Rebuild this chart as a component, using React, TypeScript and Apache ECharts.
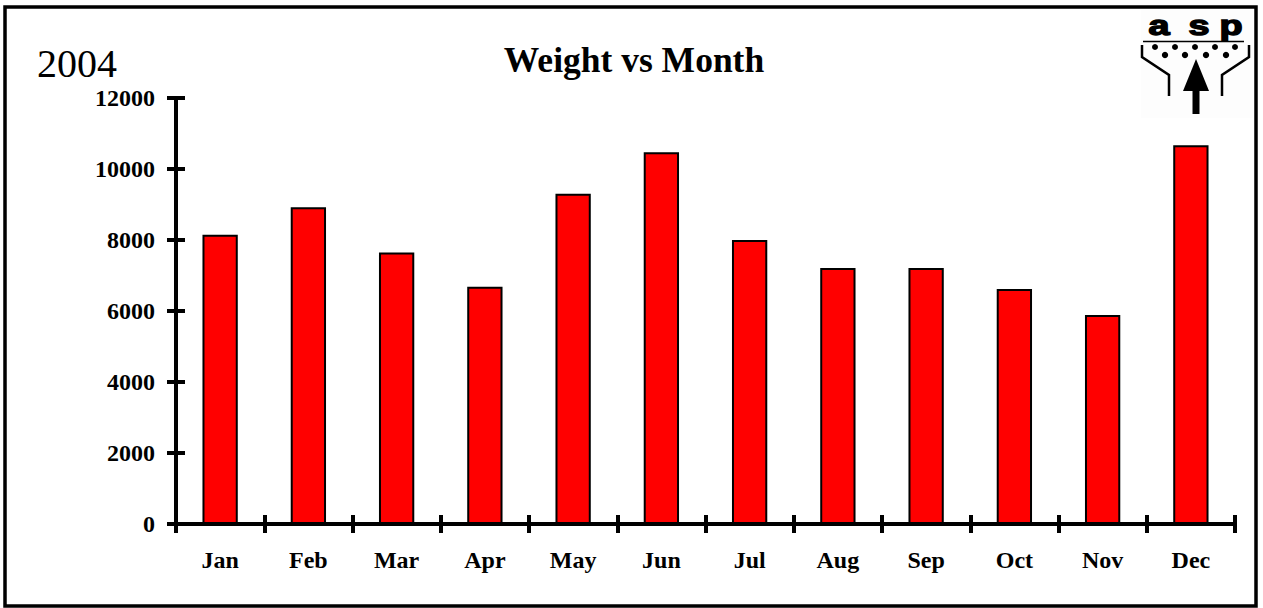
import React, { useEffect, useRef } from "react";
import * as echarts from "echarts";

const months = ["Jan", "Feb", "Mar", "Apr", "May", "Jun", "Jul", "Aug", "Sep", "Oct", "Nov", "Dec"];
const weights = [8150, 8920, 7650, 6680, 9300, 10470, 8000, 7210, 7210, 6620, 5890, 10670];
const yTicks = { min: 0, max: 12000, interval: 2000 };
const titleText = "Weight vs Month";
const yearText = "2004";

const FONT = "'Liberation Serif', 'Times New Roman', serif";
const LOGO_FONT = "bold 28px 'Liberation Sans', Arial, sans-serif";

export default function App() {
  const ref = useRef<HTMLDivElement>(null);
  useEffect(() => {
    if (!ref.current) return;
    const chart = echarts.init(ref.current, undefined, { renderer: "svg" });
    const tickStyle = { color: "#000", width: 4 };
    const dots1 = [1155, 1175, 1195, 1215, 1235].map((x) => ({
      type: "circle", shape: { cx: x, cy: 47, r: 3 }, style: { fill: "#000" },
    }));
    const dots2 = [1165, 1185, 1206, 1226].map((x) => ({
      type: "circle", shape: { cx: x, cy: 55, r: 3.2 }, style: { fill: "#000" },
    }));
    const logoLetter = (t: string, x: number) => ({
      type: "text", x, y: 25, scaleX: 1.35,
      style: {
        text: t, font: LOGO_FONT, fill: "#000", stroke: "#000", lineWidth: 1.4,
        align: "center", verticalAlign: "middle",
      },
    });
    chart.setOption({
      animation: false,
      backgroundColor: "#fff",
      grid: { left: 176, right: 28, top: 98, bottom: 84, containLabel: false },
      xAxis: [
        {
          type: "category",
          data: months,
          position: "bottom",
          axisLine: { lineStyle: { color: "#000", width: 4 } },
          axisTick: { show: true, length: 9, lineStyle: tickStyle, alignWithLabel: false },
          axisLabel: { color: "#000", fontFamily: FONT, fontWeight: "bold", fontSize: 24, margin: 24 },
          splitLine: { show: false },
        },
        {
          type: "category",
          data: months,
          position: "bottom",
          axisLine: { show: false },
          axisTick: { show: true, inside: true, length: 9, lineStyle: tickStyle },
          axisLabel: { show: false },
          splitLine: { show: false },
        },
      ],
      yAxis: [
        {
          type: "value",
          min: yTicks.min,
          max: yTicks.max,
          interval: yTicks.interval,
          position: "left",
          axisLine: { show: true, lineStyle: { color: "#000", width: 4 } },
          axisTick: { show: true, length: 9, lineStyle: tickStyle },
          axisLabel: {
            color: "#000", fontFamily: FONT, fontWeight: "bold", fontSize: 24, margin: 21,
            formatter: (v: number) => String(v),
          },
          splitLine: { show: false },
        },
        {
          type: "value",
          min: yTicks.min,
          max: yTicks.max,
          interval: yTicks.interval,
          position: "left",
          axisLine: { show: false },
          axisTick: { show: true, inside: true, length: 9, lineStyle: tickStyle },
          axisLabel: { show: false },
          splitLine: { show: false },
        },
      ],
      series: [
        {
          type: "bar",
          data: weights,
          xAxisIndex: 0,
          yAxisIndex: 0,
          barWidth: "40%",
          itemStyle: { color: "#ff0000", borderColor: "#000", borderWidth: 2 },
        },
      ],
      graphic: [
        {
          type: "rect",
          shape: { x: 5, y: 7, width: 1251, height: 599 },
          style: { fill: "none", stroke: "#000", lineWidth: 3.5 },
          z: 100,
        },
        {
          type: "text",
          x: 634,
          y: 60,
          style: {
            text: titleText, font: `bold 35.5px ${FONT}`, fill: "#000",
            align: "center", verticalAlign: "middle",
          },
        },
        {
          type: "text",
          x: 37,
          y: 63,
          style: {
            text: yearText, font: `40px ${FONT}`, fill: "#000",
            align: "left", verticalAlign: "middle",
          },
        },
        {
          type: "group",
          children: [
            { type: "rect", shape: { x: 1141, y: 10, width: 112, height: 108 }, style: { fill: "#fdfdfd" } },
            logoLetter("a", 1159),
            logoLetter("s", 1199),
            logoLetter("p", 1231),
            { type: "line", shape: { x1: 1143, y1: 41.5, x2: 1244, y2: 41.5 }, style: { stroke: "#000", lineWidth: 1.5 } },
            ...dots1,
            ...dots2,
            { type: "polyline", shape: { points: [[1142, 45], [1142, 57], [1169, 75], [1169, 96]] }, style: { stroke: "#000", lineWidth: 2.5, fill: "none" } },
            { type: "polyline", shape: { points: [[1249, 45], [1249, 57], [1222, 75], [1222, 96]] }, style: { stroke: "#000", lineWidth: 2.5, fill: "none" } },
            { type: "polygon", shape: { points: [[1196, 59], [1183, 91], [1209, 91]] }, style: { fill: "#000" } },
            { type: "rect", shape: { x: 1192.5, y: 90, width: 7, height: 24 }, style: { fill: "#000" } },
          ],
        },
      ],
    });
    return () => chart.dispose();
  }, []);
  return (
    <div
      ref={ref}
      style={{ position: "absolute", left: 0, top: 0, width: 1263, height: 608 }}
    />
  );
}
